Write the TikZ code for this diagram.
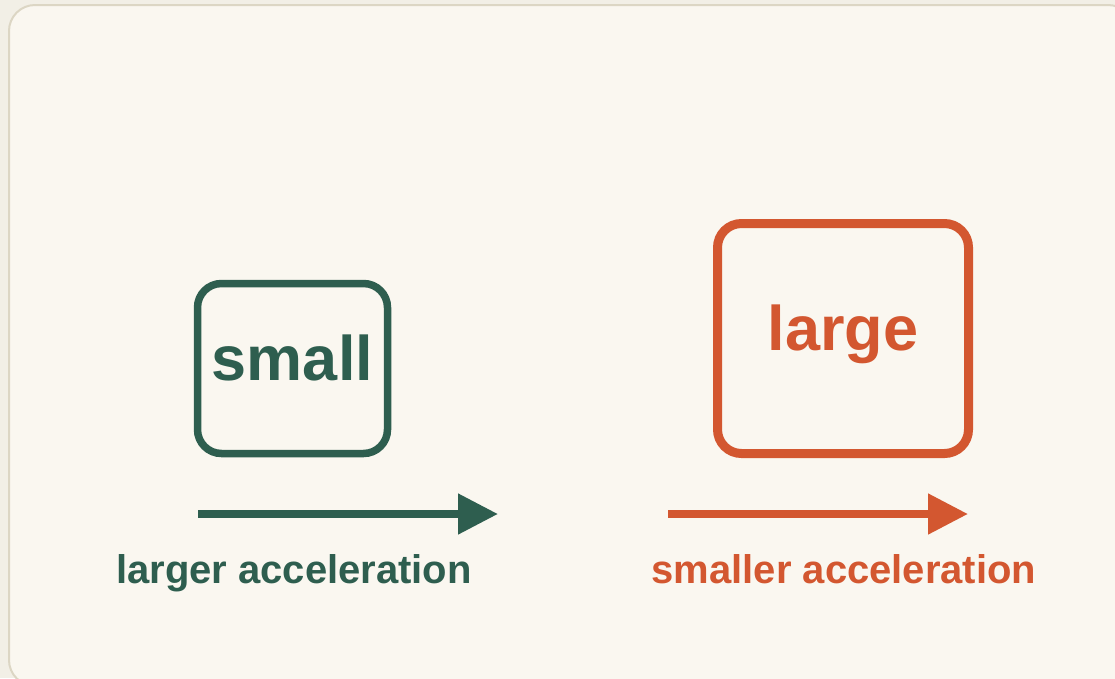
\documentclass[tikz,border=0pt]{standalone}
\usepackage{fontspec}
\setmainfont{Liberation Sans}
\usetikzlibrary{arrows.meta, positioning}
\definecolor{cPage}{HTML}{F2EFE6}
\definecolor{cPanel}{HTML}{FAF7F0}
\definecolor{cEdge}{HTML}{DCD6C4}
\definecolor{cSmall}{HTML}{2E5E4F}
\definecolor{cLarge}{HTML}{D35730}

\begin{document}
\begin{tikzpicture}[
  x=1pt, y=-1pt,
  massbox/.style={rectangle, rounded corners=24pt, draw, fill=none, inner sep=0pt},
  masstext/.style={font=\fontsize{63}{66}\selectfont\bfseries},
  acclabel/.style={font=\fontsize{40}{44}\selectfont\bfseries, anchor=base},
  push/.style={line width=8pt, -{Triangle[length=40pt, width=39pt]}}
]
% page and panel
\useasboundingbox (0,0) rectangle (1115,678);
\fill[cPage] (0,0) rectangle (1115,678);
\begin{scope}
  \clip (0,0) rectangle (1115,678);
  \draw[cEdge, fill=cPanel, line width=2pt, rounded corners=26pt] (9,5) rectangle (1134,686);
\end{scope}

% small mass
\node[massbox, cSmall, line width=7.5pt, minimum width=190pt, minimum height=170pt] (sbox) at (292.5,368.5) {};
\node[masstext, text=cSmall] (stext) at ([yshift=11pt]sbox.center) {small};
\coordinate (sfrom) at (198,514);
\coordinate (sto) at (498,514);
\draw[push, cSmall] (sfrom) -- (sto);
\node[acclabel, text=cSmall] (slabel) at (294,583) {larger acceleration};

% large mass
\node[massbox, cLarge, line width=9pt, minimum width=251pt, minimum height=230pt] (lbox) at (843,338.5) {};
\node[masstext, text=cLarge] (ltext) at ([yshift=4pt]lbox.center) {large};
\coordinate (lfrom) at (668,514);
\coordinate (lto) at (968,514);
\draw[push, cLarge] (lfrom) -- (lto);
\node[acclabel, text=cLarge] (llabel) at (844,583) {smaller acceleration};
\end{tikzpicture}
\end{document}
